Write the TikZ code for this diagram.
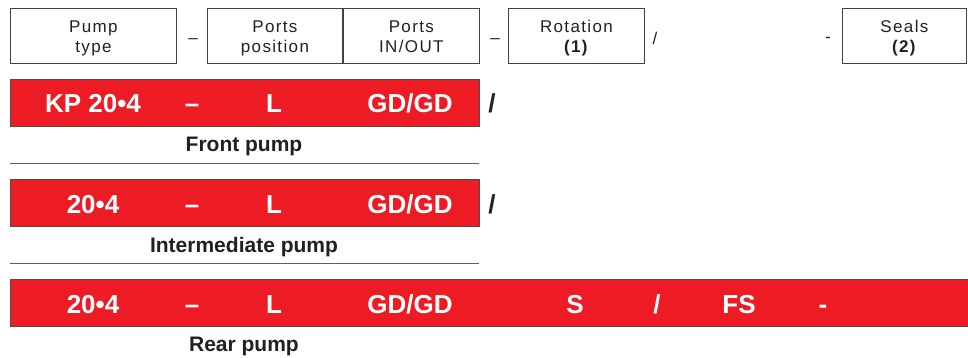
\documentclass[tikz,border=0pt]{standalone}
\usepackage{fontspec}
\setmainfont{Liberation Sans}
\newfontfamily\hdrfont[LetterSpace=8]{Liberation Sans}
\usepackage{xcolor}
\usetikzlibrary{positioning}
\definecolor{kpred}{HTML}{ED1C24}
\definecolor{ink}{HTML}{231F20}
\definecolor{rulegray}{HTML}{5F5F5F}

\begin{document}
\begin{tikzpicture}[x=1pt,y=-1pt,
  field/.style={draw=ink!85,line width=0.9pt,minimum height=55pt,inner sep=0pt,
    text height=44pt,text depth=11pt,anchor=north west,align=center,text=ink,
    font=\hdrfont\fontsize{17}{20}\selectfont},
  sep/.style={text=ink,font=\fontsize{17}{20}\selectfont},
  bar/.style={fill=kpred,draw=ink!80,line width=0.9pt,minimum height=47pt,
    inner sep=0pt,anchor=north west},
  code/.style={anchor=base,white,font=\bfseries\fontsize{26}{30}\selectfont},
  pumplbl/.style={anchor=base,ink,font=\bfseries\fontsize{21}{25}\selectfont},
  rule/.style={rulegray,line width=0.9pt}]
\useasboundingbox (0,0) rectangle (968,358);

% order code header
\node[field,minimum width=166pt] (type) at (10,8) {Pump\\type};
\node[field,minimum width=135pt] (pos) at (207,8) {Ports\\position};
\node[field,minimum width=136pt] (io) at (pos.north east) {Ports\\IN/OUT};
\node[field,minimum width=136pt] (rot) at (508,8) {Rotation\\\textbf{(1)}};
\node[field,minimum width=124pt] (seal) at (842,8) {Seals\\\textbf{(2)}};
\node[sep] (d1) at (193,41) {--};
\node[sep] (d2) at (495,41) {--};
\node[sep] (sl) at (655,38) {/};
\node[sep] (d3) at (828,40) {-};

% front pump
\node[bar,minimum width=469pt] (front) at (10,79) {};
\foreach \x/\t in {93/KP 20•4,192/--,274/L,410/{GD/GD}}
  \node[code] at (\x,113) {\t};
\node[code,ink] (fsl) at (492,113) {/};
\node[pumplbl] (frontlbl) at (244,152) {Front pump};
\draw[rule] (10,163) -- (479,163);

% intermediate pump
\node[bar,minimum width=469pt] (mid) at (10,179) {};
\foreach \x/\t in {93/20•4,192/--,274/L,410/{GD/GD}}
  \node[code] at (\x,213) {\t};
\node[code,ink] (msl) at (492,213) {/};
\node[pumplbl] (midlbl) at (244,252) {Intermediate pump};
\draw[rule] (10,263) -- (479,263);

% rear pump
\node[bar,minimum width=965pt] (rear) at (10,279) {};
\foreach \x/\t in {93/20•4,192/--,274/L,410/{GD/GD},575/S,657/{/},739/FS,823/-}
  \node[code] at (\x,313) {\t};
\node[pumplbl] (rearlbl) at (244,351) {Rear pump};
\end{tikzpicture}
\end{document}
